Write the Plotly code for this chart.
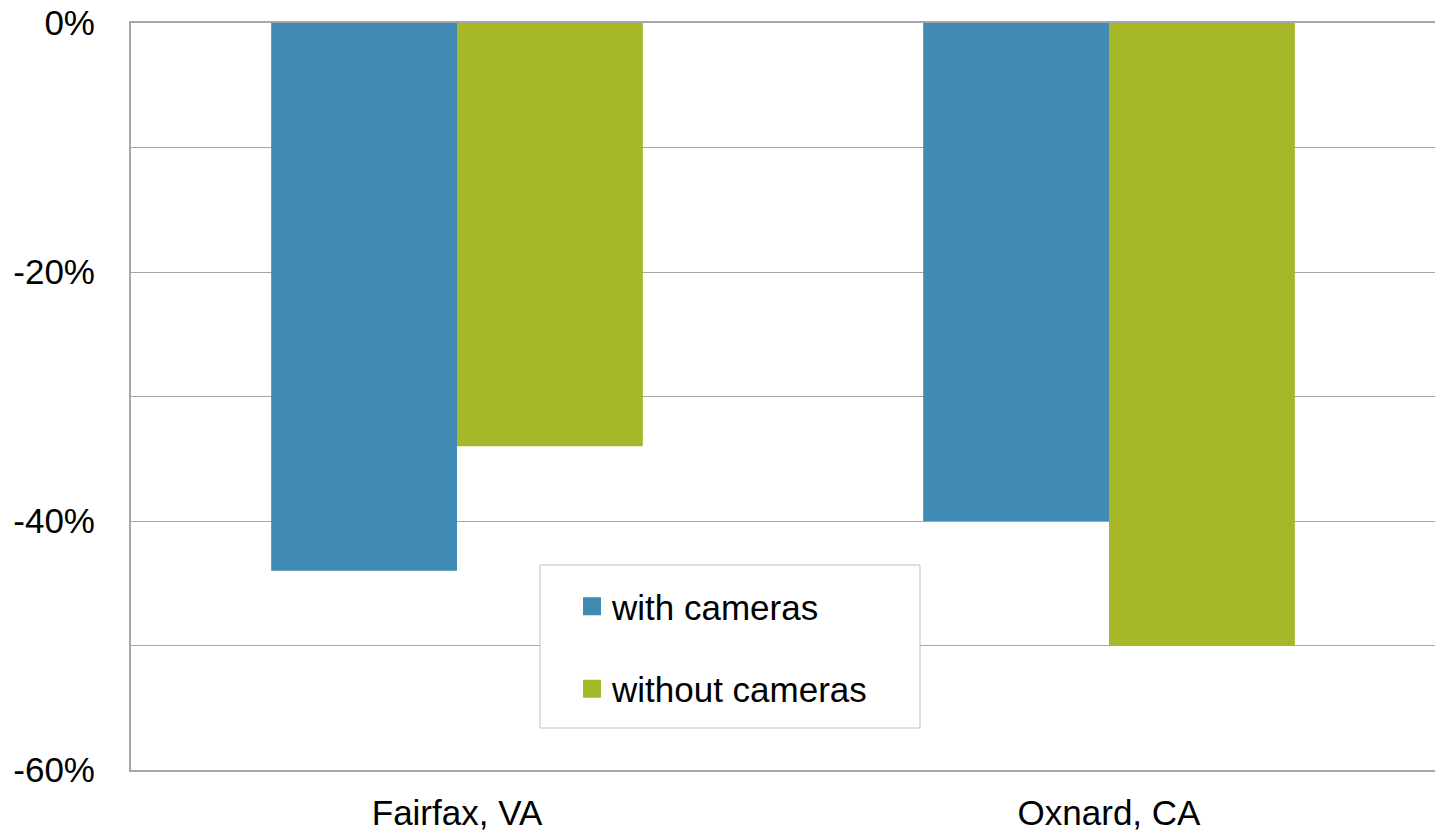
import plotly.graph_objects as go

categories = ["Fairfax, VA", "Oxnard, CA"]
with_cameras = [-44, -40]
without_cameras = [-34, -50]
series_names = ["with cameras", "without cameras"]
colors = ["#418AB3", "#A6B727"]
ytick_vals = [0, -20, -40, -60]
ytick_text = ["0%", "-20%", "-40%", "-60%"]

W, H = 1435, 834
L, R, T, B = 131, 0, 23, 64
PW, PH = W - L - R, H - T - B
FONT = "Liberation Sans, Arial, sans-serif"
FS = 35


def px(x):
    return (x - L) / PW


def py(y):
    return 1 - (y - T) / PH


fig = go.Figure()
for name, vals, c in zip(series_names, [with_cameras, without_cameras], colors):
    fig.add_trace(go.Bar(x=categories, y=vals, name=name, marker=dict(color=c, line=dict(width=0)),
                         showlegend=False))
# legend proxies (larger square keys)
for i, (name, c) in enumerate(zip(series_names, colors)):
    fig.add_trace(go.Scatter(x=[None], y=[None], mode="markers", name=name,
                             legendgroup=f"g{i}",
                             marker=dict(symbol="square", size=16, color=c, line=dict(color=c, width=2))))

fig.update_layout(
    width=W, height=H,
    margin=dict(l=L, r=R, t=T, b=B, autoexpand=False),
    paper_bgcolor="white", plot_bgcolor="white",
    barmode="group", bargap=0.43, bargroupgap=0,
    font=dict(family=FONT, color="black"),
    showlegend=True,
    legend=dict(x=px(572), y=py(577),
                xanchor="left", yanchor="top", bgcolor="rgba(0,0,0,0)", borderwidth=0,
                font=dict(size=FS, family=FONT, color="black"),
                traceorder="grouped", tracegroupgap=34),
    shapes=[dict(type="rect", xref="paper", yref="paper",
                 x0=px(540), x1=px(920), y0=py(728), y1=py(565),
                 line=dict(color="#BFBFBF", width=1), fillcolor="white", layer="above")],
    xaxis=dict(showgrid=False, showline=True, mirror=True, linecolor="#A6A6A6", linewidth=1.5,
               ticks="", zeroline=False, ticklabeloverflow="allow",
               tickfont=dict(size=FS, family=FONT, color="black"), ticklabelstandoff=11,
               fixedrange=True),
    yaxis=dict(range=[-60, 0], tickvals=ytick_vals, ticktext=ytick_text,
               showgrid=True, gridcolor="#A6A6A6", gridwidth=1,
               minor=dict(dtick=10, showgrid=True, gridcolor="#A6A6A6", gridwidth=1, ticks=""),
               zeroline=False, showline=True, linecolor="#A6A6A6", linewidth=2,
               ticks="", ticklabelstandoff=27, ticklabeloverflow="allow",
               tickfont=dict(size=FS, family=FONT, color="black"), fixedrange=True),
)
fig.write_html("out.html", config={"displayModeBar": False},
               post_script="document.body.style.margin='0';")
